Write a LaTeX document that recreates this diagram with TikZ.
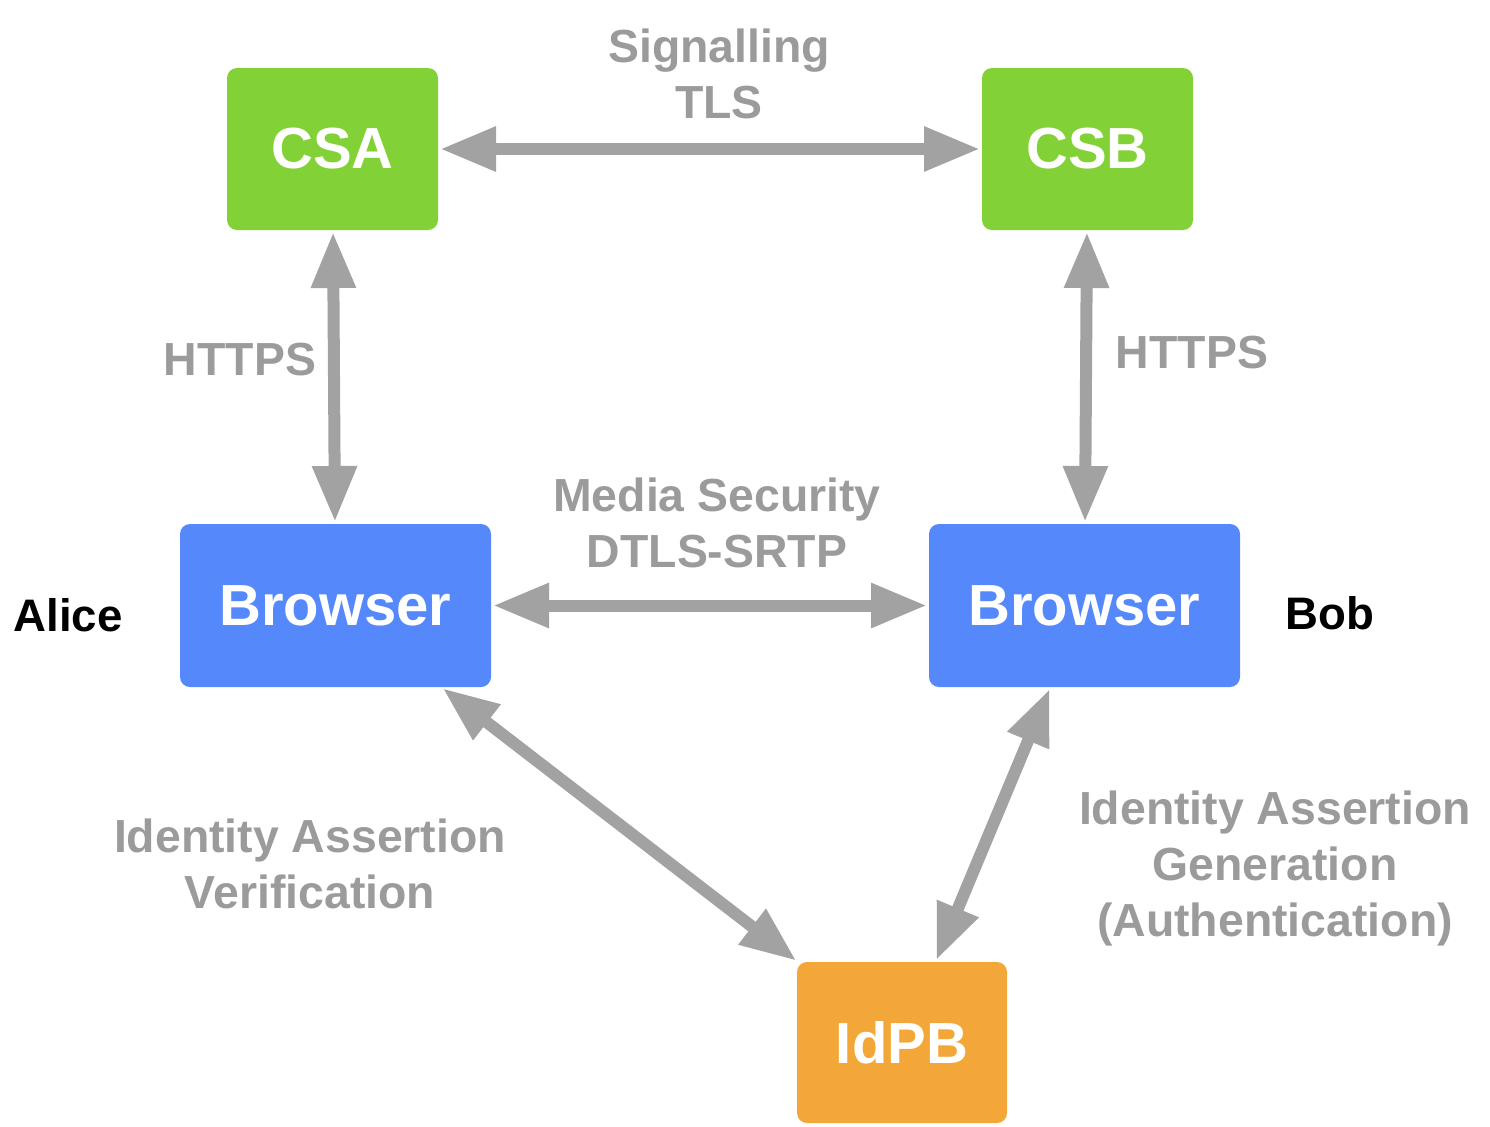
\documentclass[tikz,border=0pt]{standalone}
\usepackage{fontspec}
\setmainfont{Liberation Sans}
\usetikzlibrary{arrows.meta}
\definecolor{cgreen}{HTML}{82D136}
\definecolor{cblue}{HTML}{5588FB}
\definecolor{corange}{HTML}{F2A738}
\definecolor{carrow}{HTML}{A2A2A2}
\definecolor{ctext}{HTML}{9B9B9B}
\tikzset{
  box/.style={rectangle, rounded corners=5pt, inner sep=0pt, outer sep=0pt,
    text=white, font=\fontsize{29}{34}\selectfont\bfseries},
  lbl/.style={text=ctext, align=center, inner sep=0pt,
    font=\fontsize{23.2}{28}\selectfont\bfseries},
  who/.style={text=black, inner sep=0pt, font=\fontsize{22.8}{28}\selectfont\bfseries},
  arr/.style={draw=carrow, line width=6pt,
    {Triangle[length=28pt,width=21pt]}-{Triangle[length=28pt,width=21pt]},
    shorten <=1pt, shorten >=1pt}
}
\begin{document}
\begin{tikzpicture}[x=0.5pt,y=-0.5pt]
\useasboundingbox (0,0) rectangle (1490,1126);
\node[box, fill=cgreen, minimum width=105.5pt, minimum height=81pt] (csa) at (332.5,149) {CSA};
\node[box, fill=cgreen, minimum width=105.5pt, minimum height=81pt] (csb) at (1087.5,149) {CSB};
\node[box, fill=cblue, minimum width=155.5pt, minimum height=81.5pt] (bl) at (335.5,605.5) {Browser};
\node[box, fill=cblue, minimum width=155.5pt, minimum height=81.5pt] (br) at (1084.5,605.5) {Browser};
\node[box, fill=corange, minimum width=105pt, minimum height=80.5pt] (idp) at (902,1042.5) {IdPB};

\draw[arr] (csa) -- (csb);
\draw[arr] (csa) -- (bl);
\draw[arr] (csb) -- (br);
\draw[arr] (bl) -- (br);
\draw[arr] (bl) -- (idp);
\draw[arr] (br) -- (idp);

\node[lbl] (l1) at (719,74) {Signalling\\TLS};
\node[lbl] (l2) at (240,360) {HTTPS};
\node[lbl] (l3) at (1192,353) {HTTPS};
\node[lbl] (l4) at (717,523) {Media Security\\DTLS-SRTP};
\node[lbl] (l5) at (310,864) {Identity Assertion\\Verification};
\node[lbl] (l6) at (1275,868) {Identity Assertion\\Generation\\(Authentication)};
\node[who] (alice) at (68,615) {Alice};
\node[who] (bob) at (1330,613) {Bob};
\end{tikzpicture}
\end{document}
